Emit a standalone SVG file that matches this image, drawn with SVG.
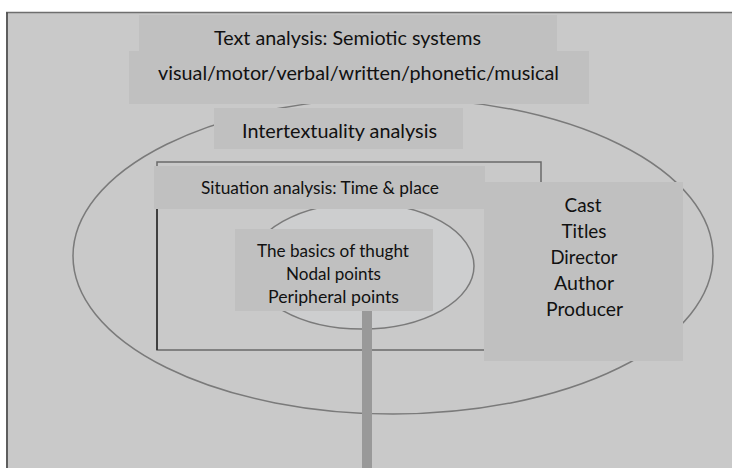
<svg xmlns="http://www.w3.org/2000/svg" width="732" height="468" viewBox="0 0 732 468">
<style>
.box{fill:#c0c0c0}
.t{font-family:Lato,"Liberation Sans",sans-serif;fill:#111;text-anchor:middle}
.big{font-size:20px}
.sm{font-size:17px}
.ell{fill:none;stroke:#7a7a7a;stroke-width:1.5}
</style>
<rect x="0" y="0" width="732" height="468" fill="#ffffff"/>
<rect x="6" y="12.5" width="726" height="455.5" fill="#c9c9c9"/>
<line x1="6" y1="12.5" x2="732" y2="12.5" stroke="#6e6e6e" stroke-width="1.5"/>
<line x1="7" y1="12.5" x2="7" y2="468" stroke="#3a3a3a" stroke-width="1.5"/>
<g id="connectors">
<ellipse id="outer-ellipse" class="ell" cx="393" cy="256" rx="320" ry="158"/>
<ellipse id="inner-ellipse" cx="362" cy="266" rx="112" ry="63" fill="#cdcecf" stroke="#7a7a7a" stroke-width="1.5"/>
<polyline points="541,184 541,162 157,162 157,350 484,350" fill="none" stroke="#6a6a6a" stroke-width="1.5"/>
<line x1="157" y1="209" x2="157" y2="350" stroke="#2a2a2a" stroke-width="1.5"/>
<rect x="362" y="311" width="10" height="157" fill="#999999"/>
</g>
<g id="text-analysis">
<rect class="box" x="139" y="15" width="418" height="36"/>
<text class="t big" x="347.5" y="45" textLength="267" lengthAdjust="spacingAndGlyphs">Text analysis: Semiotic systems</text>
</g>
<g id="semiotic-systems">
<rect class="box" x="129" y="51" width="460" height="53"/>
<text class="t big" x="358.5" y="80" textLength="401" lengthAdjust="spacingAndGlyphs">visual/motor/verbal/written/phonetic/musical</text>
</g>
<g id="intertextuality">
<rect class="box" x="214" y="108" width="249" height="41"/>
<text class="t big" x="339.5" y="138" textLength="195" lengthAdjust="spacingAndGlyphs">Intertextuality analysis</text>
</g>
<g id="situation">
<rect class="box" x="154" y="166" width="331" height="43"/>
<text class="t sm" x="320" y="194" textLength="238" lengthAdjust="spacingAndGlyphs">Situation analysis: Time &amp; place</text>
</g>
<g id="cast">
<rect class="box" x="484" y="182" width="199" height="179"/>
<text class="t big" x="583" y="212" textLength="37" lengthAdjust="spacingAndGlyphs">Cast</text>
<text class="t big" x="584" y="238" textLength="45" lengthAdjust="spacingAndGlyphs">Titles</text>
<text class="t big" x="584" y="264" textLength="67" lengthAdjust="spacingAndGlyphs">Director</text>
<text class="t big" x="584" y="290" textLength="60" lengthAdjust="spacingAndGlyphs">Author</text>
<text class="t big" x="584.5" y="316" textLength="77" lengthAdjust="spacingAndGlyphs">Producer</text>
</g>
<g id="basics">
<rect class="box" x="235" y="229" width="198" height="82"/>
<text class="t sm" x="333" y="257" textLength="152" lengthAdjust="spacingAndGlyphs">The basics of thught</text>
<text class="t sm" x="333.5" y="280" textLength="95" lengthAdjust="spacingAndGlyphs">Nodal points</text>
<text class="t sm" x="333.5" y="303" textLength="131" lengthAdjust="spacingAndGlyphs">Peripheral points</text>
</g>
</svg>
